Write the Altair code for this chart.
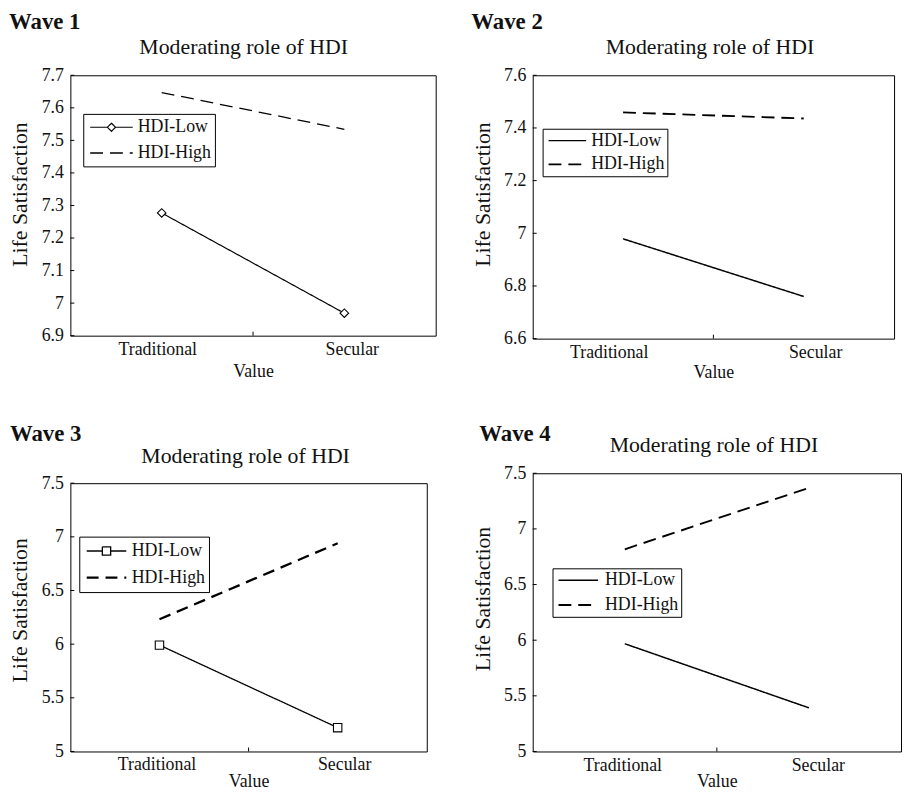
import altair as alt
import pandas as pd

FONT = "Liberation Serif"
TEXT = "#111111"

categories = ["Traditional", "Secular"]
series_names = ["HDI-Low", "HDI-High"]
wave_titles = ["Wave 1", "Wave 2", "Wave 3", "Wave 4"]
panel_title = "Moderating role of HDI"
y_title = "Life Satisfaction"
x_title = "Value"

wave1_low = [7.277, 6.969]
wave1_high = [7.647, 7.534]
wave2_low = [6.979, 6.760]
wave2_high = [7.459, 7.436]
wave3_low = [5.991, 5.222]
wave3_high = [6.232, 6.940]
wave4_low = [5.968, 5.392]
wave4_high = [6.817, 7.369]

wave1_ticks = [6.9, 7.0, 7.1, 7.2, 7.3, 7.4, 7.5, 7.6, 7.7]
wave2_ticks = [6.6, 6.8, 7.0, 7.2, 7.4, 7.6]
wave3_ticks = [5.0, 5.5, 6.0, 6.5, 7.0, 7.5]
wave4_ticks = [5.0, 5.5, 6.0, 6.5, 7.0, 7.5]

DIAMOND_PATH = "M-1,0H-0.19L0,-0.19L0.19,0H1M0.19,0L0,0.19L-0.19,0"
SQUARE_PATH = "M-1,0H-0.21V-0.21H0.21V0H1M0.21,0V0.21H-0.21V0"

styles = [
    dict(w=369, h=263, wx=-62, wy=-47, tx=175, ty=-21, ytx=-44, yty=120, xlab=19, xtitle=41,
         lx=13, ly=39, lpad=4, rowpad=7, clip=19, ssize=1849, soff=2, loff=4,
         lw=[1.2, 1.3], dash=[13, 7], dx=(-4, 8), marker="diamond", msize=75, lpath=DIAMOND_PATH),
    dict(w=365, h=266, wx=-62, wy=-47, tx=179, ty=-21, ytx=-44, yty=120, xlab=19, xtitle=39,
         lx=10, ly=54, lpad=3, rowpad=6, clip=18, ssize=1444, soff=2, loff=4,
         lw=[1.5, 1.9], dash=[13, 7], dx=(-14, 12), marker=None, msize=0, lpath=None),
    dict(w=360, h=271, wx=-61, wy=-43, tx=177, ty=-20, ytx=-44, yty=128, xlab=18, xtitle=35,
         lx=9, ly=54, lpad=4, rowpad=6, clip=21, ssize=1600, soff=2, loff=4,
         lw=[1.3, 2.3], dash=[12, 7], dx=(-2.5, 7), marker="square", msize=72, lpath=SQUARE_PATH),
    dict(w=372, h=281, wx=-54, wy=-33, tx=183, ty=-21, ytx=-44, yty=126.5, xlab=19, xtitle=35,
         lx=20, ly=96, lpad=3, rowpad=7, clip=18, ssize=1600, soff=2, loff=6,
         lw=[1.5, 1.9], dash=[13, 7], dx=(-2, 9.5), marker=None, msize=0, lpath=None),
]


def make_panel(idx, low, high, ticks, s):
    rows = []
    for name, vals in zip(series_names, [low, high]):
        for c, v in zip(categories, vals):
            rows.append({"Value": c, "Series": name, "LS": v})
    df = pd.DataFrame(rows)
    w, h = s["w"], s["h"]

    x_scale = alt.Scale(type="band", domain=categories, paddingInner=0, paddingOuter=0)
    x_axis = alt.Axis(
        title=x_title, domain=False, grid=False, ticks=False, tickSize=0,
        labelAngle=0, labelFont=FONT, labelFontSize=18, labelColor=TEXT,
        labelBaseline="alphabetic", labelPadding=s["xlab"],
        labelOffset={"condition": {"test": "datum.value === '%s'" % categories[0],
                                   "value": s["dx"][0]}, "value": s["dx"][1]},
        titleFont=FONT, titleFontSize=18, titleFontWeight="normal", titleColor=TEXT,
        titleBaseline="alphabetic", titleY=s["xtitle"], titleX=w / 2, titleAlign="center",
    )
    x_enc = alt.X("Value:N", sort=categories, bandPosition=0.5, scale=x_scale, axis=x_axis)
    y_enc = alt.Y(
        "LS:Q", scale=alt.Scale(domain=[ticks[0], ticks[-1]], nice=False, zero=False),
        axis=alt.Axis(
            title=y_title, values=ticks, format=".6~g", domain=False, grid=False,
            ticks=False, tickSize=0,
            labelFont=FONT, labelFontSize=18, labelColor=TEXT, labelPadding=7,
            titleFont=FONT, titleFontSize=22, titleFontWeight="normal", titleColor=TEXT,
            titleAngle=270, titleBaseline="alphabetic", titleAlign="center",
            titleX=s["ytx"], titleY=s["yty"],
        ),
    )

    legend_kw = dict(
        title=None, orient="none", legendX=s["lx"], legendY=s["ly"], direction="vertical",
        fillColor="white", strokeColor="black", padding=s["lpad"], cornerRadius=0,
        symbolSize=s["ssize"], symbolStrokeColor="black", symbolFillColor="transparent",
        symbolOffset=s["soff"], labelOffset=s["loff"],
        labelFont=FONT, labelFontSize=18, labelColor=TEXT,
        rowPadding=s["rowpad"], clipHeight=s["clip"],
    )
    if s["lpath"]:
        legend_kw["symbolType"] = {"expr": "datum.value === '%s' ? '%s' : 'stroke'" % (series_names[0], s["lpath"])}
    else:
        legend_kw["symbolType"] = "stroke"
    legend = alt.Legend(**legend_kw)

    dash = alt.StrokeDash("Series:N", scale=alt.Scale(domain=series_names, range=[[1, 0], s["dash"]]),
                          legend=legend)
    sw = alt.StrokeWidth("Series:N", scale=alt.Scale(domain=series_names, range=s["lw"]), legend=legend)

    base = alt.Chart(df).encode(x=x_enc, y=y_enc)
    lines = base.mark_line(color="black").encode(strokeDash=dash, strokeWidth=sw)
    layers = [lines]
    if s["marker"]:
        pts = base.transform_filter(alt.datum.Series == series_names[0]).mark_point(
            shape=s["marker"], filled=True, fill="white", stroke="black", strokeWidth=1.1,
            size=s["msize"], opacity=1)
        layers.append(pts)

    # inward y ticks at the tick values
    ytick = alt.Chart(pd.DataFrame({"LS": ticks})).mark_rule(color="black", strokeWidth=1).encode(
        y=y_enc, x=alt.value(0), x2=alt.value(4))
    # inward x tick at the boundary between the two categories
    xtick = alt.Chart(pd.DataFrame({"Value": [categories[1]]})).mark_rule(color="black", strokeWidth=1).encode(
        x=alt.X("Value:N", sort=categories, bandPosition=0, scale=x_scale, axis=x_axis),
        y=alt.value(h), y2=alt.value(h - 4))
    layers += [ytick, xtick]

    wave_txt = alt.Chart(pd.DataFrame({"t": [wave_titles[idx]]})).mark_text(
        font=FONT, fontSize=23, fontWeight="bold", align="left", baseline="alphabetic", color=TEXT
    ).encode(text="t:N", x=alt.value(s["wx"]), y=alt.value(s["wy"]))
    ttl = alt.Chart(pd.DataFrame({"t": [panel_title]})).mark_text(
        font=FONT, fontSize=22, align="center", baseline="alphabetic", color=TEXT
    ).encode(text="t:N", x=alt.value(s["tx"]), y=alt.value(s["ty"]))
    layers += [wave_txt, ttl]
    return alt.layer(*layers).properties(width=w, height=h)


def indep(c):
    return c.resolve_scale(strokeDash="independent", strokeWidth="independent").resolve_legend(
        strokeDash="independent", strokeWidth="independent")


p1 = make_panel(0, wave1_low, wave1_high, wave1_ticks, styles[0])
p2 = make_panel(1, wave2_low, wave2_high, wave2_ticks, styles[1])
p3 = make_panel(2, wave3_low, wave3_high, wave3_ticks, styles[2])
p4 = make_panel(3, wave4_low, wave4_high, wave4_ticks, styles[3])

chart = indep(alt.hconcat(
    indep(alt.vconcat(p1, p3, spacing=41)),
    indep(alt.vconcat(p2, p4, spacing=40)),
    spacing=34,
)).properties(
    padding={"left": 0, "top": -2, "right": 0, "bottom": 0}
).configure(background="white").configure_view(stroke="black", strokeWidth=1)

chart.save("out.html", embed_options={"renderer": "svg", "actions": False})
